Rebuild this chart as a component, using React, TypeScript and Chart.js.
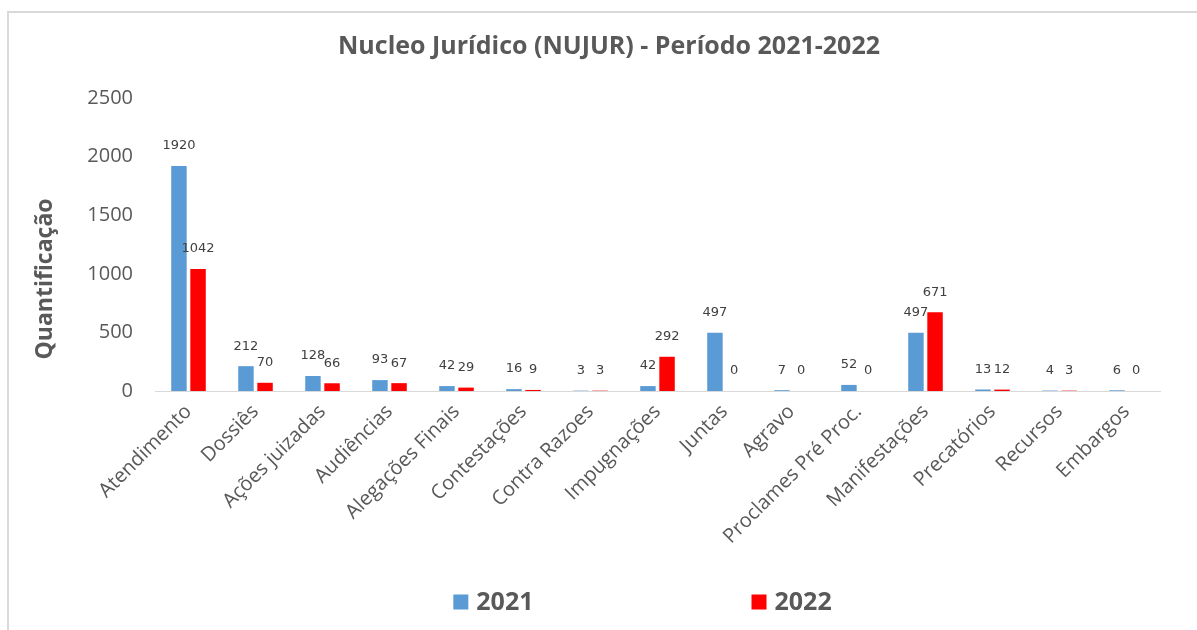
import React, { useEffect, useRef } from "react";
import { Chart, registerables } from "chart.js";

Chart.register(...registerables);

const categories = [
  "Atendimento",
  "Dossiês",
  "Ações juizadas",
  "Audiências",
  "Alegações Finais",
  "Contestações",
  "Contra Razoes",
  "Impugnações",
  "Juntas",
  "Agravo",
  "Proclames Pré Proc.",
  "Manifestações",
  "Precatórios",
  "Recursos",
  "Embargos",
];
const values2021 = [1920, 212, 128, 93, 42, 16, 3, 42, 497, 7, 52, 497, 13, 4, 6];
const values2022 = [1042, 70, 66, 67, 29, 9, 3, 292, 0, 0, 0, 671, 12, 3, 0];
const seriesLabels = ["2021", "2022"];
const seriesColors = ["#5b9bd5", "#ff0000"];
const yMin = 0;
const yMax = 2500;
const yStep = 500;
const chartTitle = "Nucleo Jurídico (NUJUR) - Período 2021-2022";
const yAxisTitle = "Quantificação";

const TEXT = "#595959";
const FONT = "'Open Sans', 'Noto Sans', sans-serif";

const valueLabelsPlugin = {
  id: "valueLabels",
  afterDatasetsDraw(chart: any) {
    const ctx = chart.ctx;
    ctx.save();
    ctx.font = "13px 'DejaVu Sans', sans-serif";
    ctx.fillStyle = "#404040";
    ctx.textAlign = "center";
    ctx.textBaseline = "middle";
    chart.data.datasets.forEach((ds: any, i: number) => {
      const meta = chart.getDatasetMeta(i);
      meta.data.forEach((el: any, j: number) => {
        ctx.fillText(String(ds.data[j]), el.x, el.y - 20);
      });
    });
    ctx.restore();
  },
};

const yTitlePlugin = {
  id: "yTitle",
  afterDraw(chart: any) {
    const ctx = chart.ctx;
    const area = chart.chartArea;
    ctx.save();
    ctx.font = `bold 23px ${FONT}`;
    ctx.fillStyle = TEXT;
    ctx.textAlign = "center";
    ctx.textBaseline = "middle";
    ctx.translate(36, area.bottom - 112);
    ctx.rotate(-Math.PI / 2);
    ctx.fillText(yAxisTitle, 0, 0);
    ctx.restore();
  },
};

const legendPlugin = {
  id: "customLegend",
  afterDraw(chart: any) {
    const ctx = chart.ctx;
    const area = chart.chartArea;
    ctx.save();
    ctx.font = `bold 25px ${FONT}`;
    ctx.textBaseline = "middle";
    ctx.textAlign = "left";
    const box = 15;
    const gapBoxText = 8;
    const gapItems = 218;
    const items = chart.data.datasets.map((ds: any) => ({
      label: ds.label,
      color: ds.backgroundColor,
      w: box + gapBoxText + ctx.measureText(ds.label).width,
    }));
    const total = items.reduce((s: number, it: any) => s + it.w, 0) + gapItems * (items.length - 1);
    const cx = (area.left + area.right) / 2 - 15;
    const y = chart.height - 28;
    let x = cx - total / 2;
    items.forEach((it: any) => {
      ctx.fillStyle = it.color;
      ctx.fillRect(x, y - box / 2, box, box);
      ctx.fillStyle = TEXT;
      ctx.fillText(it.label, x + box + gapBoxText, y + 1);
      x += it.w + gapItems;
    });
    ctx.restore();
  },
};

export default function App() {
  const ref = useRef<HTMLCanvasElement | null>(null);

  useEffect(() => {
    if (!ref.current) return;
    const chart = new Chart(ref.current, {
      type: "bar",
      data: {
        labels: categories,
        datasets: [
          {
            label: seriesLabels[0],
            data: values2021,
            backgroundColor: seriesColors[0],
            categoryPercentage: 0.57,
            barPercentage: 0.81,
          },
          {
            label: seriesLabels[1],
            data: values2022,
            backgroundColor: seriesColors[1],
            categoryPercentage: 0.57,
            barPercentage: 0.81,
          },
        ],
      },
      options: {
        responsive: false,
        animation: false,
        layout: { padding: { left: 49, right: 37, top: 0, bottom: 0 } },
        plugins: {
          legend: { display: false },
          tooltip: { enabled: false },
          title: {
            display: true,
            text: chartTitle,
            color: TEXT,
            font: { family: FONT, size: 25, weight: "bold", lineHeight: 1.2 },
            padding: { top: 19, bottom: 36 },
          },
        },
        scales: {
          x: {
            grid: { display: false, drawTicks: false },
            border: { display: true, color: "#d9d9d9", width: 1 },
            ticks: {
              autoSkip: false,
              maxRotation: 45,
              minRotation: 45,
              padding: 9,
              color: TEXT,
              font: { family: FONT, size: 20 },
            },
            afterFit(scale: any) {
              scale.height = 239;
            },
          },
          y: {
            min: yMin,
            max: yMax,
            grid: { display: false, drawTicks: false },
            border: { display: false },
            ticks: {
              stepSize: yStep,
              padding: 22,
              color: TEXT,
              font: { family: FONT, size: 20 },
              callback: (v: any) => String(v),
            },
            afterFit(scale: any) {
              scale.width = 97;
            },
          },
        },
      },
      plugins: [valueLabelsPlugin, yTitlePlugin, legendPlugin],
    });
    return () => chart.destroy();
  }, []);

  return (
    <div
      style={{
        position: "fixed",
        left: 7,
        top: 11,
        width: 1190,
        height: 619,
        boxSizing: "border-box",
        borderTop: "2px solid #d9d9d9",
        borderLeft: "2px solid #d9d9d9",
        background: "#fff",
      }}
    >
      <canvas ref={ref} width={1188} height={617} style={{ display: "block" }} />
    </div>
  );
}
